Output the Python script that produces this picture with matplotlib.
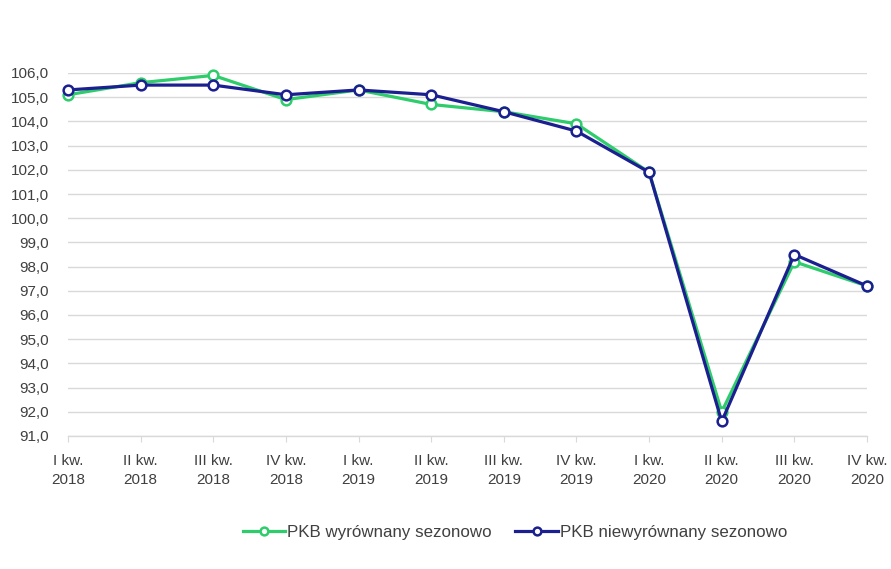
import matplotlib
matplotlib.use("Agg")
import matplotlib.pyplot as plt
from matplotlib.ticker import FuncFormatter

plt.rcParams['font.family'] = ['Liberation Sans', 'DejaVu Sans']

categories = ["I kw.\n2018", "II kw.\n2018", "III kw.\n2018", "IV kw.\n2018",
              "I kw.\n2019", "II kw.\n2019", "III kw.\n2019", "IV kw.\n2019",
              "I kw.\n2020", "II kw.\n2020", "III kw.\n2020", "IV kw.\n2020"]
pkb_sa = [105.1, 105.6, 105.9, 104.9, 105.3, 104.7, 104.4, 103.9, 101.9, 92.0, 98.2, 97.2]
pkb_nsa = [105.3, 105.5, 105.5, 105.1, 105.3, 105.1, 104.4, 103.6, 101.9, 91.6, 98.5, 97.2]
label_sa = "PKB wyrównany sezonowo"
label_nsa = "PKB niewyrównany sezonowo"

green = "#2ecc6b"
blue = "#1b1f8f"
text_col = "#404040"

fig = plt.figure(figsize=(8.91, 5.69), dpi=100)
ax = fig.add_axes([68/891, 1-436/569, (867-68)/891, (436-73)/569])

x = list(range(len(categories)))
ax.plot(x, pkb_sa, color=green, lw=2.3, marker='o', ms=7, mfc='white',
        mec=green, mew=1.8, label=label_sa, clip_on=False, zorder=3)
ax.plot(x, pkb_nsa, color=blue, lw=2.3, marker='o', ms=7, mfc='white',
        mec=blue, mew=1.8, label=label_nsa, clip_on=False, zorder=4)

ax.set_xlim(0, len(categories)-1)
ax.set_ylim(91, 106)
ax.set_yticks(range(91, 107))
ax.yaxis.set_major_formatter(FuncFormatter(lambda v, p: f"{v:.1f}".replace('.', ',')))
ax.set_xticks(x)
ax.set_xticklabels(categories, linespacing=1.45)

ax.grid(axis='y', color='#d9d9d9', lw=1)
ax.set_axisbelow(True)
for s in ['top', 'right', 'left']:
    ax.spines[s].set_visible(False)
ax.spines['bottom'].set_color('#d9d9d9')
ax.spines['bottom'].set_linewidth(1)

ax.tick_params(axis='y', length=0, pad=14, labelsize=11, labelcolor=text_col)
ax.tick_params(axis='x', length=4, color='#d9d9d9', pad=9, labelsize=11, labelcolor=text_col)

leg = fig.legend(loc='center', bbox_to_anchor=(515/891, 1-532/569), ncol=2,
                 frameon=False, fontsize=12.2, handlelength=2.5, handletextpad=0.1,
                 columnspacing=1.4, markerscale=0.8)
for t in leg.get_texts():
    t.set_color(text_col)

fig.savefig("out.png", dpi=100, facecolor='white')
